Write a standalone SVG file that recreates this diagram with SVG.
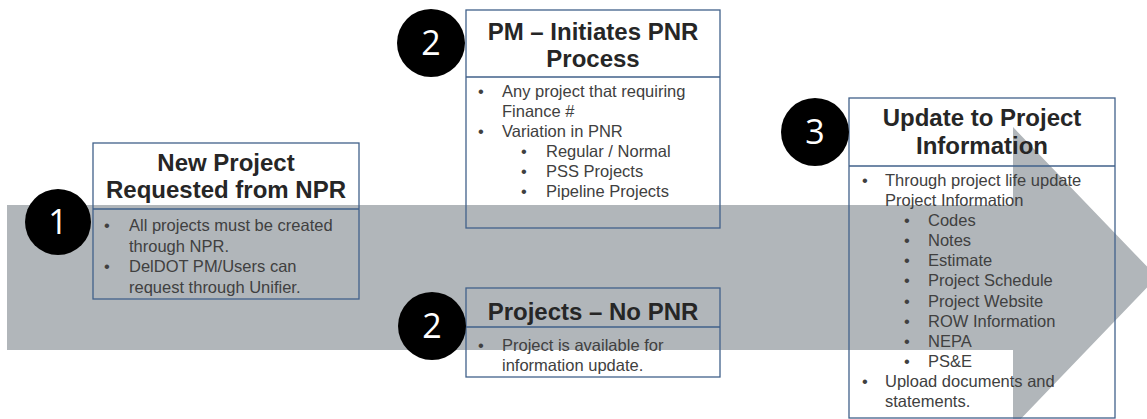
<svg xmlns="http://www.w3.org/2000/svg" width="1147" height="419" viewBox="0 0 1147 419">
<style>
.box{fill:none;stroke:#41618a;stroke-width:1.3}
.div{stroke:#41618a;stroke-width:1.3}
.title{font-family:"Liberation Sans",Arial,sans-serif;font-weight:bold;font-size:24px;fill:#262626;text-anchor:middle}
.body{font-family:"Liberation Sans",Arial,sans-serif;font-size:16.5px;fill:#404040}
.badge{fill:#000000}
.num{font-family:"Open Sans","DejaVu Sans",sans-serif;font-size:34px;fill:#ffffff;text-anchor:middle}
.arrow{fill:#b1b6ba}
</style>
<rect width="1147" height="419" fill="#ffffff"/>

<g id="connectors">
<path class="arrow" d="M7,205 H1013 V127 L1157,277 L1013,427 V350 H7 Z"/>
</g>

<g id="node1">
<rect class="box" x="93" y="143" width="266" height="156"/>
<line class="div" x1="93" y1="209" x2="359" y2="209"/>
<text class="title" x="226" y="171">New Project</text>
<text class="title" x="226" y="198">Requested from NPR</text>
<text class="body"><tspan x="104" y="231">•</tspan><tspan x="129" y="231">All projects must be created</tspan><tspan x="129" y="251.5">through NPR.</tspan><tspan x="104" y="272">•</tspan><tspan x="129" y="272">DelDOT PM/Users can</tspan><tspan x="129" y="292.5">request through Unifier.</tspan></text>
</g>

<g id="node2a">
<rect class="box" x="466" y="10" width="254" height="218"/>
<line class="div" x1="466" y1="77" x2="720" y2="77"/>
<text class="title" x="593" y="40">PM – Initiates PNR</text>
<text class="title" x="593" y="67">Process</text>
<text class="body"><tspan x="478" y="97">•</tspan><tspan x="502" y="97">Any project that requiring</tspan><tspan x="502" y="117">Finance #</tspan><tspan x="478" y="137">•</tspan><tspan x="502" y="137">Variation in PNR</tspan><tspan x="521" y="157">•</tspan><tspan x="546" y="157">Regular / Normal</tspan><tspan x="521" y="177">•</tspan><tspan x="546" y="177">PSS Projects</tspan><tspan x="521" y="197">•</tspan><tspan x="546" y="197">Pipeline Projects</tspan></text>
</g>

<g id="node2b">
<rect class="box" x="466" y="288" width="254" height="89"/>
<line class="div" x1="466" y1="327" x2="720" y2="327"/>
<text class="title" x="593" y="320">Projects – No PNR</text>
<text class="body"><tspan x="478" y="351">•</tspan><tspan x="502" y="351">Project is available for</tspan><tspan x="502" y="371">information update.</tspan></text>
</g>

<g id="node3">
<rect class="box" x="849" y="98" width="266" height="320"/>
<line class="div" x1="849" y1="166" x2="1115" y2="166"/>
<text class="title" x="982" y="126">Update to Project</text>
<text class="title" x="982" y="154">Information</text>
<text class="body"><tspan x="862" y="186">•</tspan><tspan x="885" y="186">Through project life update</tspan><tspan x="885" y="206">Project Information</tspan><tspan x="904" y="226">•</tspan><tspan x="928" y="226">Codes</tspan><tspan x="904" y="246">•</tspan><tspan x="928" y="246">Notes</tspan><tspan x="904" y="266">•</tspan><tspan x="928" y="266">Estimate</tspan><tspan x="904" y="286">•</tspan><tspan x="928" y="286">Project Schedule</tspan><tspan x="904" y="306.5">•</tspan><tspan x="928" y="306.5">Project Website</tspan><tspan x="904" y="327">•</tspan><tspan x="928" y="327">ROW Information</tspan><tspan x="904" y="347">•</tspan><tspan x="928" y="347">NEPA</tspan><tspan x="904" y="367">•</tspan><tspan x="928" y="367">PS&amp;E</tspan><tspan x="862" y="387">•</tspan><tspan x="885" y="387">Upload documents and</tspan><tspan x="885" y="407">statements.</tspan></text>
</g>

<g id="badge1">
<circle class="badge" cx="58" cy="222" r="33"/>
<text class="num" x="58" y="234">1</text>
</g>
<g id="badge2a">
<circle class="badge" cx="431" cy="43" r="34"/>
<text class="num" x="431" y="55">2</text>
</g>
<g id="badge2b">
<circle class="badge" cx="432" cy="326" r="34"/>
<text class="num" x="432" y="338">2</text>
</g>
<g id="badge3">
<circle class="badge" cx="815" cy="132" r="34"/>
<text class="num" x="815" y="144">3</text>
</g>
</svg>
